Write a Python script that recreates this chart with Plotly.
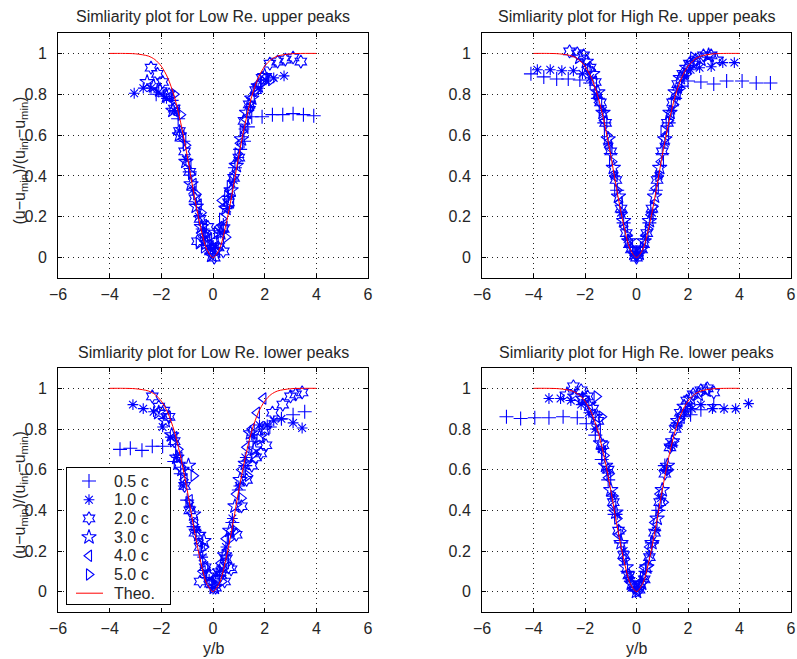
import plotly.graph_objects as go

# ---------------- data ----------------
SERIES_NAMES = ["0.5 c", "1.0 c", "2.0 c", "3.0 c", "4.0 c", "5.0 c"]
THEO_NAME = "Theo."
PANEL_TITLES = ["Simliarity plot for Low Re. upper peaks",
                "Simliarity plot for High Re. upper peaks",
                "Simliarity plot for Low Re. lower peaks",
                "Simliarity plot for High Re. lower peaks"]
X_TICKS = [-6, -4, -2, 0, 2, 4, 6]
Y_TICKS = [0, 0.2, 0.4, 0.6, 0.8, 1]
Y_TICK_TEXT = ["0", "0.2", "0.4", "0.6", "0.8", "1"]

THEO_X = [-4, -3.5, -3, -2.5, -2.25, -2, -1.75, -1.5, -1.25, -1, -0.75, -0.5, -0.25, 0,
          0.25, 0.5, 0.75, 1, 1.25, 1.5, 1.75, 2, 2.25, 2.5, 3, 3.5, 4]
THEO_Y = [1.0, 1.0, 0.998, 0.987, 0.97, 0.937, 0.88, 0.79, 0.66, 0.50, 0.32, 0.16, 0.042, 0.0,
          0.042, 0.16, 0.32, 0.50, 0.66, 0.79, 0.88, 0.937, 0.97, 0.987, 0.998, 1.0, 1.0]

# Panel 1: Low Re upper peaks
TL_05_x = [-2.2, -1.9, -1.6, -1.35, -1.15, -0.9, -0.65, -0.4, -0.2, 0.0, 0.2, 0.4, 0.6, 0.85, 1.05, 1.2, 1.35, 1.5, 1.9, 2.3, 2.7, 3.1, 3.5, 3.9]
TL_05_y = [0.80, 0.79, 0.77, 0.68, 0.57, 0.42, 0.26, 0.14, 0.06, 0.02, 0.07, 0.16, 0.30, 0.44, 0.53, 0.57, 0.64, 0.69, 0.69, 0.70, 0.70, 0.705, 0.70, 0.695]
TL_10_x = [-3.05, -2.7, -2.4, -2.1, -1.8, -1.5, -1.3, -1.05, -0.8, -0.55, -0.3, -0.1, 0.1, 0.3, 0.55, 0.8, 1.0, 1.2, 1.45, 1.75, 2.05, 2.35, 2.75]
TL_10_y = [0.805, 0.83, 0.83, 0.81, 0.78, 0.72, 0.62, 0.48, 0.33, 0.20, 0.10, 0.04, 0.05, 0.12, 0.24, 0.38, 0.49, 0.63, 0.74, 0.83, 0.87, 0.88, 0.89]
TL_20_x = [-2.4, -2.15, -1.95, -1.7, -1.5, -1.3, -1.1, -0.9, -0.7, -0.5, -0.3, -0.1, 0.05, 0.2, 0.4, 0.6, 0.8, 1.0, 1.2, 1.4, 1.65, 1.9, 2.2, 2.5, 2.8, 3.1, 3.4, -0.6, 0.4, -0.2]
TL_20_y = [0.93, 0.90, 0.86, 0.80, 0.73, 0.62, 0.52, 0.42, 0.29, 0.19, 0.10, 0.03, 0.0, 0.05, 0.14, 0.27, 0.39, 0.49, 0.67, 0.75, 0.82, 0.88, 0.95, 0.96, 0.97, 0.98, 0.96, 0.08, 0.03, 0.15]
TL_30_x = [-2.55, -2.3, -2.05, -1.8, -1.55, -1.3, -1.05, -0.85, -0.65, -0.45, -0.25, -0.05, 0.1, 0.3, 0.5, 0.7, 0.9, 1.1, 1.3, 1.5, 1.75, 2.0]
TL_30_y = [0.86, 0.84, 0.82, 0.79, 0.72, 0.60, 0.47, 0.36, 0.25, 0.15, 0.07, 0.01, 0.03, 0.12, 0.24, 0.33, 0.45, 0.58, 0.71, 0.78, 0.84, 0.89]
TL_40_x = [-1.65, -1.4, -1.15, -0.95, -0.75, -0.55, -0.35, -0.15, 0.05, 0.25, 0.45, 0.65, 0.85, 1.05, 1.25, 1.5, 1.75, 2.0, -0.45, 0.45, 0.35, 0.7]
TL_40_y = [0.79, 0.72, 0.58, 0.46, 0.36, 0.26, 0.16, 0.09, 0.08, 0.15, 0.25, 0.33, 0.46, 0.56, 0.68, 0.78, 0.85, 0.88, 0.12, 0.15, 0.28, 0.27]
TL_50_x = [-1.5, -1.25, -1.05, -0.85, -0.65, -0.45, -0.25, -0.05, 0.15, 0.35, 0.55, 0.75, 0.95, 1.15, 1.4, 1.65, 1.95, 2.25, -0.55, 0.5, 0.65, -0.35]
TL_50_y = [0.80, 0.70, 0.55, 0.41, 0.31, 0.22, 0.12, 0.06, 0.12, 0.19, 0.30, 0.39, 0.51, 0.62, 0.73, 0.82, 0.86, 0.87, 0.07, 0.10, 0.35, 0.05]

# Panel 2: High Re upper peaks
TR_05_x = [-4.1, -3.6, -3.1, -2.65, -2.2, -1.8, -1.5, -1.25, -1.0, -0.75, -0.5, -0.25, 0.0, 0.25, 0.5, 0.75, 1.0, 1.25, 1.5, 1.75, 2.0, 2.5, 3.0, 3.5, 4.1, 4.65, 5.2]
TR_05_y = [0.90, 0.885, 0.875, 0.875, 0.87, 0.855, 0.78, 0.66, 0.51, 0.33, 0.17, 0.05, 0.01, 0.05, 0.17, 0.33, 0.51, 0.66, 0.78, 0.84, 0.865, 0.86, 0.85, 0.865, 0.865, 0.855, 0.855]
TR_10_x = [-3.85, -3.35, -2.9, -2.45, -2.1, -1.8, -1.55, -1.3, -1.1, -0.85, -0.6, -0.35, -0.1, 0.1, 0.35, 0.6, 0.85, 1.1, 1.35, 1.6, 1.85, 2.1, 2.45, 2.9, 3.35, 3.8]
TR_10_y = [0.92, 0.92, 0.915, 0.915, 0.90, 0.88, 0.80, 0.72, 0.56, 0.40, 0.22, 0.09, 0.02, 0.02, 0.09, 0.22, 0.40, 0.56, 0.72, 0.82, 0.89, 0.92, 0.93, 0.935, 0.955, 0.955]
TR_20_x = [-2.6, -2.3, -2.05, -1.8, -1.6, -1.4, -1.2, -1.0, -0.8, -0.6, -0.4, -0.2, 0.0, 0.2, 0.4, 0.6, 0.8, 1.0, 1.2, 1.4, 1.6, 1.8, 2.05, 2.3, 2.6, 2.9]
TR_20_y = [1.01, 1.0, 0.99, 0.93, 0.86, 0.76, 0.66, 0.52, 0.38, 0.24, 0.12, 0.04, 0.0, 0.04, 0.12, 0.24, 0.38, 0.52, 0.66, 0.76, 0.85, 0.90, 0.95, 0.97, 0.99, 0.99]
TR_30_x = [-2.2, -1.95, -1.7, -1.5, -1.3, -1.1, -0.9, -0.7, -0.5, -0.3, -0.1, 0.1, 0.3, 0.5, 0.7, 0.9, 1.1, 1.3, 1.5, 1.7, 1.95, 2.2, 2.5, 2.8, 3.1]
TR_30_y = [0.98, 0.96, 0.90, 0.81, 0.71, 0.58, 0.44, 0.30, 0.18, 0.08, 0.02, 0.02, 0.08, 0.18, 0.30, 0.44, 0.58, 0.71, 0.81, 0.88, 0.93, 0.95, 0.97, 0.99, 0.97]
TR_40_x = [-1.9, -1.65, -1.45, -1.25, -1.05, -0.85, -0.65, -0.45, -0.25, -0.05, 0.15, 0.35, 0.55, 0.75, 0.95, 1.15, 1.35, 1.6, 1.85, 2.1]
TR_40_y = [0.93, 0.86, 0.76, 0.67, 0.54, 0.40, 0.27, 0.15, 0.06, 0.01, 0.03, 0.11, 0.21, 0.34, 0.47, 0.60, 0.71, 0.80, 0.90, 0.95]
TR_50_x = [-1.8, -1.55, -1.35, -1.15, -0.95, -0.75, -0.55, -0.35, -0.15, 0.05, 0.25, 0.45, 0.65, 0.85, 1.05, 1.25, 1.45, 1.7, 1.95, 2.2]
TR_50_y = [0.92, 0.80, 0.72, 0.60, 0.47, 0.33, 0.22, 0.11, 0.04, 0.01, 0.05, 0.14, 0.25, 0.40, 0.62, 0.67, 0.75, 0.83, 0.90, 0.98]

# Panel 3: Low Re lower peaks
BL_05_x = [-3.6, -3.2, -2.75, -2.35, -1.95, -1.5, -1.25, -1.0, -0.75, -0.5, -0.25, 0.0, 0.25, 0.5, 0.75, 1.0, 1.25, 1.55, 1.9, 2.2, 2.65, 3.1, 3.55]
BL_05_y = [0.70, 0.705, 0.695, 0.715, 0.715, 0.64, 0.58, 0.45, 0.32, 0.18, 0.07, 0.02, 0.08, 0.18, 0.34, 0.50, 0.62, 0.74, 0.80, 0.81, 0.85, 0.87, 0.885]
BL_10_x = [-3.1, -2.7, -2.3, -1.95, -1.65, -1.4, -1.15, -0.9, -0.65, -0.4, -0.15, 0.05, 0.25, 0.5, 0.75, 1.0, 1.25, 1.5, 1.8, 2.1, 2.35, 2.65, 3.1, 3.45]
BL_10_y = [0.92, 0.90, 0.885, 0.81, 0.76, 0.66, 0.52, 0.42, 0.30, 0.17, 0.06, 0.02, 0.10, 0.22, 0.36, 0.52, 0.66, 0.77, 0.82, 0.82, 0.84, 0.85, 0.83, 0.805]
BL_20_x = [-2.35, -2.1, -1.9, -1.7, -1.5, -1.3, -1.1, -0.9, -0.7, -0.5, -0.3, -0.1, 0.1, 0.3, 0.5, 0.7, 0.9, 1.1, 1.3, 1.5, 1.65, 1.85, 2.05, 2.3, 2.7, 3.0, 3.2, 3.45, -0.5, 0.45, 0.6]
BL_20_y = [0.96, 0.91, 0.89, 0.86, 0.74, 0.62, 0.52, 0.40, 0.29, 0.22, 0.12, 0.04, 0.02, 0.08, 0.16, 0.11, 0.28, 0.42, 0.55, 0.62, 0.66, 0.68, 0.72, 0.88, 0.92, 0.96, 0.97, 0.98, 0.05, 0.05, 0.12]
BL_30_x = [-2.1, -1.85, -1.6, -1.4, -1.2, -0.95, -0.75, -0.55, -0.35, -0.15, 0.05, 0.25, 0.45, 0.65, 0.85, 1.05, 1.25, 1.45, 1.6, 1.8, 2.0]
BL_30_y = [0.88, 0.84, 0.77, 0.66, 0.60, 0.62, 0.38, 0.28, 0.25, 0.08, 0.02, 0.10, 0.18, 0.30, 0.42, 0.55, 0.63, 0.78, 0.70, 0.76, 0.80]
BL_40_x = [-1.75, -1.5, -1.3, -1.1, -0.9, -0.7, -0.5, -0.3, -0.1, 0.1, 0.3, 0.5, 0.7, 0.9, 1.1, 1.3, 1.5, 1.7, 1.95, -0.4, 0.5]
BL_40_y = [0.86, 0.76, 0.66, 0.55, 0.45, 0.34, 0.24, 0.12, 0.05, 0.06, 0.14, 0.26, 0.30, 0.48, 0.60, 0.71, 0.80, 0.88, 0.95, 0.10, 0.14]
BL_50_x = [-1.55, -1.35, -1.15, -0.95, -0.75, -0.75, -0.35, -0.15, 0.05, 0.25, 0.45, 0.65, 0.85, 1.1, 1.35, 1.6, 1.8, 0.35, -0.3]
BL_50_y = [0.74, 0.70, 0.55, 0.44, 0.33, 0.57, 0.22, 0.08, 0.04, 0.10, 0.18, 0.26, 0.30, 0.46, 0.57, 0.68, 0.75, 0.05, 0.12]

# Panel 4: High Re lower peaks
BR_05_x = [-5.05, -4.5, -3.95, -3.4, -2.85, -2.3, -1.95, -1.6, -1.35, -1.1, -0.85, -0.6, -0.35, -0.1, 0.1, 0.35, 0.6, 0.85, 1.1, 1.35, 1.6, 1.85, 2.1, 2.5, 3.0]
BR_05_y = [0.86, 0.852, 0.855, 0.855, 0.86, 0.855, 0.826, 0.77, 0.65, 0.55, 0.38, 0.24, 0.10, 0.02, 0.02, 0.10, 0.24, 0.40, 0.62, 0.72, 0.83, 0.86, 0.87, 0.895, 0.92]
BR_10_x = [-3.4, -2.95, -2.55, -2.15, -1.85, -1.6, -1.35, -1.15, -0.95, -0.75, -0.5, -0.25, 0.0, 0.25, 0.5, 0.75, 0.95, 1.15, 1.35, 1.6, 1.85, 2.15, 2.5, 2.95, 3.4, 3.85, 4.35]
BR_10_y = [0.95, 0.95, 0.94, 0.92, 0.88, 0.80, 0.70, 0.60, 0.47, 0.38, 0.20, 0.07, 0.01, 0.06, 0.18, 0.30, 0.46, 0.60, 0.72, 0.82, 0.88, 0.90, 0.92, 0.90, 0.90, 0.90, 0.925]
BR_20_x = [-2.45, -2.15, -1.9, -1.7, -1.5, -1.3, -1.1, -0.9, -0.7, -0.5, -0.3, -0.1, 0.1, 0.3, 0.5, 0.7, 0.9, 1.1, 1.3, 1.5, 1.7, 1.95, 2.2, 2.5, 2.75, 3.0]
BR_20_y = [1.01, 0.99, 0.96, 0.90, 0.84, 0.72, 0.60, 0.44, 0.30, 0.18, 0.08, 0.02, 0.01, 0.06, 0.17, 0.29, 0.44, 0.58, 0.71, 0.80, 0.88, 0.94, 0.97, 0.99, 1.0, 0.98]
BR_30_x = [-2.7, -2.4, -2.1, -1.85, -1.6, -1.4, -1.2, -1.0, -0.8, -0.6, -0.4, -0.2, 0.0, 0.2, 0.4, 0.6, 0.8, 1.0, 1.2, 1.4, 1.6, 1.85, 2.1, 2.4, 2.7]
BR_30_y = [0.97, 0.96, 0.95, 0.92, 0.86, 0.73, 0.62, 0.50, 0.39, 0.24, 0.12, 0.04, 0.0, 0.04, 0.12, 0.24, 0.36, 0.50, 0.62, 0.74, 0.84, 0.91, 0.95, 0.97, 0.99]
BR_40_x = [-1.95, -1.7, -1.5, -1.3, -1.1, -0.9, -0.7, -0.5, -0.3, -0.1, 0.1, 0.3, 0.5, 0.7, 0.9, 1.1, 1.3, 1.5, 1.75, 2.0]
BR_40_y = [0.93, 0.87, 0.80, 0.69, 0.56, 0.42, 0.28, 0.16, 0.07, 0.02, 0.04, 0.12, 0.22, 0.34, 0.48, 0.60, 0.72, 0.82, 0.87, 0.89]
BR_50_x = [-2.0, -1.55, -1.35, -1.25, -1.05, -0.9, -0.75, -0.6, -0.45, -0.3, -0.15, 0.05, 0.25, 0.45, 0.65, 0.85, 1.05, 1.25, 1.45, 1.7, 2.0]
BR_50_y = [0.95, 0.96, 0.86, 0.67, 0.58, 0.47, 0.36, 0.30, 0.16, 0.07, 0.03, 0.0, 0.07, 0.13, 0.24, 0.40, 0.44, 0.60, 0.74, 0.85, 0.91]

PANELS = [
    [(TL_05_x, TL_05_y), (TL_10_x, TL_10_y), (TL_20_x, TL_20_y), (TL_30_x, TL_30_y), (TL_40_x, TL_40_y), (TL_50_x, TL_50_y)],
    [(TR_05_x, TR_05_y), (TR_10_x, TR_10_y), (TR_20_x, TR_20_y), (TR_30_x, TR_30_y), (TR_40_x, TR_40_y), (TR_50_x, TR_50_y)],
    [(BL_05_x, BL_05_y), (BL_10_x, BL_10_y), (BL_20_x, BL_20_y), (BL_30_x, BL_30_y), (BL_40_x, BL_40_y), (BL_50_x, BL_50_y)],
    [(BR_05_x, BR_05_y), (BR_10_x, BR_10_y), (BR_20_x, BR_20_y), (BR_30_x, BR_30_y), (BR_40_x, BR_40_y), (BR_50_x, BR_50_y)],
]

# ---------------- styling ----------------
W, H = 797, 659
FONT = "Liberation Sans, Arial, Helvetica, sans-serif"
FS = 16
TXT = "#262626"
BLUE = "#0000ff"
RED = "#ff0000"
SYMBOLS = ["cross-thin-open", "asterisk-open", "hexagram-open", "star-open",
           "triangle-left-open", "triangle-right-open"]
SIZES = [10, 9, 10, 11, 10, 10]
MLW = 1.1

# panel boxes in pixels: (left, right, top, bottom)
BOXES = [(58, 368, 33, 278), (482, 791, 33, 278), (58, 368, 368, 612), (482, 791, 368, 612)]
# legend box in pixels (inside the lower-left panel)
LEG_L, LEG_R, LEG_T, LEG_B = 67, 170, 468, 604
LEG_ROW0, LEG_STEP = 481, 18.7
LEG_SYM_X, LEG_TXT_X = 89, 112
LEG_LINE_X0, LEG_LINE_X1 = 76, 103

fig = go.Figure()

for p, series in enumerate(PANELS):
    sfx = "" if p == 0 else str(p + 1)
    for i, (xs, ys) in enumerate(series):
        fig.add_trace(go.Scatter(
            x=xs, y=ys, mode="markers", name=SERIES_NAMES[i], showlegend=False,
            xaxis="x" + sfx, yaxis="y" + sfx,
            marker=dict(symbol=SYMBOLS[i], size=SIZES[i], color=BLUE,
                        line=dict(color=BLUE, width=MLW)),
        ))
    fig.add_trace(go.Scatter(
        x=THEO_X, y=THEO_Y, mode="lines", name=THEO_NAME, showlegend=False,
        xaxis="x" + sfx, yaxis="y" + sfx,
        line=dict(color=RED, width=1, shape="spline", smoothing=0.8),
    ))

# legend drawn as a small boxed overlay subplot (sample marks + text labels)
leg_w = LEG_R - LEG_L
leg_h = LEG_B - LEG_T
for i, name in enumerate(SERIES_NAMES):
    row_y = (LEG_B - (LEG_ROW0 + i * LEG_STEP)) / leg_h
    fig.add_trace(go.Scatter(
        x=[(LEG_SYM_X - LEG_L) / leg_w], y=[row_y], mode="markers", name=name,
        showlegend=False, hoverinfo="skip", xaxis="x5", yaxis="y5",
        marker=dict(symbol=SYMBOLS[i], size=SIZES[i], color=BLUE,
                    line=dict(color=BLUE, width=MLW)),
    ))
theo_row_y = (LEG_B - (LEG_ROW0 + 6 * LEG_STEP)) / leg_h
fig.add_trace(go.Scatter(
    x=[(LEG_LINE_X0 - LEG_L) / leg_w, (LEG_LINE_X1 - LEG_L) / leg_w], y=[theo_row_y, theo_row_y],
    mode="lines", name=THEO_NAME, showlegend=False, hoverinfo="skip",
    xaxis="x5", yaxis="y5", line=dict(color=RED, width=1),
))

layout = dict(
    width=W, height=H, autosize=False,
    margin=dict(l=0, r=0, t=0, b=0, pad=0, autoexpand=False),
    paper_bgcolor="white", plot_bgcolor="white",
    font=dict(family=FONT, size=FS, color=TXT),
    showlegend=False,
)

axis_common = dict(
    showline=True, linecolor="black", linewidth=1, mirror="ticks",
    ticks="inside", ticklen=4, tickcolor="black", tickwidth=1,
    showgrid=True, gridcolor="#222222", gridwidth=1, griddash="1px,4px",
    zeroline=False, tickfont=dict(family=FONT, size=FS, color=TXT),
    automargin=False,
)

annotations = []
for p, (l, r, t, b) in enumerate(BOXES):
    sfx = "" if p == 0 else str(p + 1)
    layout["xaxis" + sfx] = dict(
        axis_common, domain=[l / W, r / W], range=[-6, 6],
        tickmode="array", tickvals=X_TICKS, ticklabelstandoff=2,
        anchor="y" + sfx,
    )
    layout["yaxis" + sfx] = dict(
        axis_common, domain=[1 - b / H, 1 - t / H], range=[-0.1, 1.1],
        tickmode="array", tickvals=Y_TICKS, ticktext=Y_TICK_TEXT, ticklabelstandoff=7,
        anchor="x" + sfx,
    )
    cx = (l + r) / 2
    annotations.append(dict(
        text=PANEL_TITLES[p], x=cx / W, y=1 - (t - 16) / H, xref="paper", yref="paper",
        xanchor="center", yanchor="middle", showarrow=False,
        font=dict(family=FONT, size=FS, color=TXT),
    ))
    if p in (0, 2):
        annotations.append(dict(
            text="(u\u2212u<sub>min</sub>)/(u<sub>inf</sub>\u2212u<sub>min</sub>)",
            x=20 / W, y=1 - ((t + b) / 2 + 5) / H, xref="paper", yref="paper",
            xanchor="center", yanchor="middle", textangle=-90, showarrow=False,
            font=dict(family=FONT, size=FS, color=TXT),
        ))
    if p in (2, 3):
        annotations.append(dict(
            text="y/b", x=cx / W, y=1 - 648 / H, xref="paper", yref="paper",
            xanchor="center", yanchor="middle", showarrow=False,
            font=dict(family=FONT, size=FS, color=TXT),
        ))

# legend overlay axes
leg_axis = dict(showline=True, linecolor="black", linewidth=1, mirror=True,
                ticks="", showticklabels=False, showgrid=False, zeroline=False,
                range=[0, 1], fixedrange=True, automargin=False)
layout["xaxis5"] = dict(leg_axis, domain=[LEG_L / W, LEG_R / W], anchor="y5")
layout["yaxis5"] = dict(leg_axis, domain=[1 - LEG_B / H, 1 - LEG_T / H], anchor="x5")
for i, name in enumerate(SERIES_NAMES + [THEO_NAME]):
    annotations.append(dict(
        text=name, x=LEG_TXT_X / W, y=1 - (LEG_ROW0 + i * LEG_STEP) / H,
        xref="paper", yref="paper", xanchor="left", yanchor="middle", showarrow=False,
        font=dict(family=FONT, size=FS, color=TXT),
    ))

layout["annotations"] = annotations
fig.update_layout(**layout)
fig.write_html("out.html", config={"displayModeBar": False},
               post_script="document.body.style.margin='0px';document.body.style.overflow='hidden';")
